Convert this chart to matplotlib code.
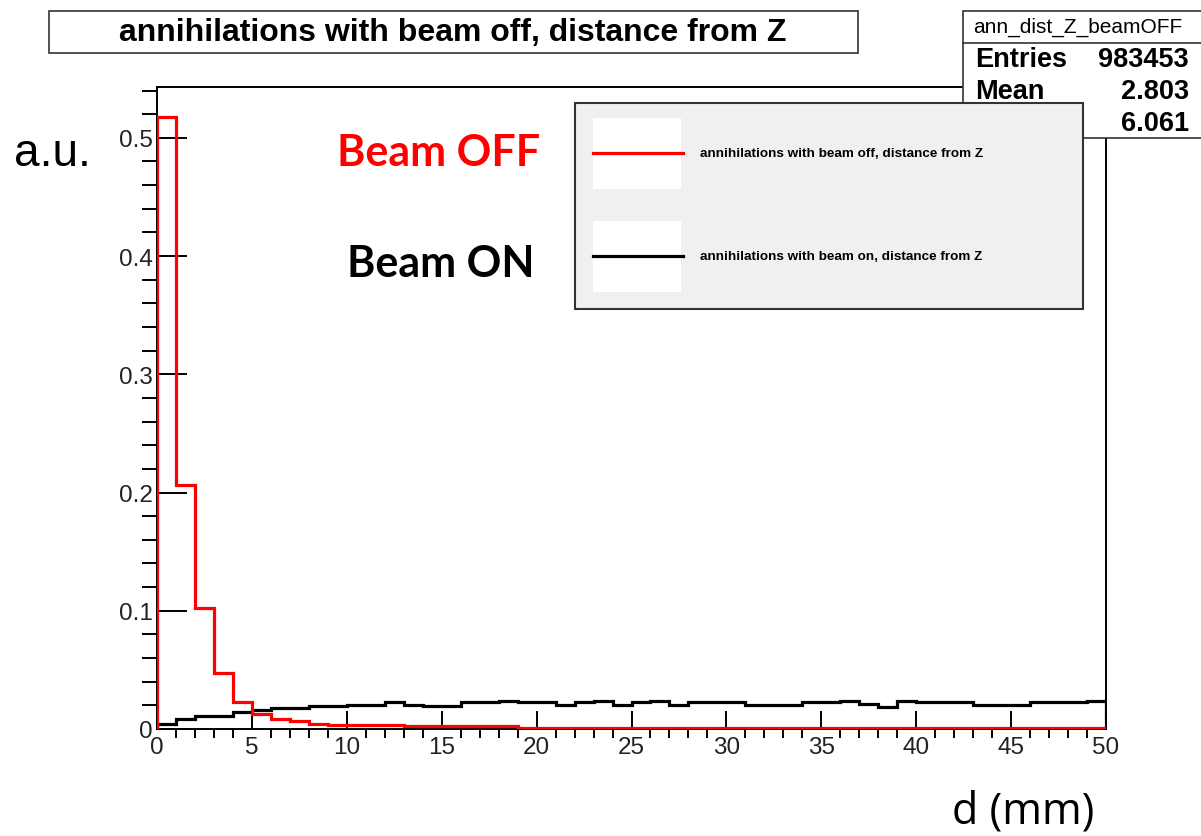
import matplotlib.pyplot as plt
import matplotlib.patches as mpatches
import matplotlib.lines as mlines
import numpy as np

# per-bin contents, 1 mm bins from 0 to 50 mm
beam_off = [0.518, 0.206, 0.102, 0.047, 0.023, 0.0127, 0.0085, 0.007, 0.0042, 0.0034,
            0.0034, 0.0034, 0.0034, 0.0023, 0.0023, 0.0023, 0.0023, 0.0023, 0.0023, 0.0012,
            0.0012, 0.0012, 0.0012, 0.0012, 0.0012, 0.0012, 0.0012, 0.0012, 0.0012, 0.0012,
            0.0012, 0.0012, 0.0008, 0.0008, 0.0008, 0.0008, 0.0008, 0.0008, 0.0008, 0.0008,
            0.0008, 0.0008, 0.0008, 0.0008, 0.0008, 0.0008, 0.0008, 0.0008, 0.0008, 0.0008]
beam_on = [0.0042, 0.0085, 0.0113, 0.0113, 0.0147, 0.016, 0.0178, 0.0178, 0.0192, 0.0192,
           0.0206, 0.0206, 0.0226, 0.0206, 0.0192, 0.0192, 0.0226, 0.0226, 0.0234, 0.0226,
           0.0226, 0.0206, 0.0226, 0.0234, 0.0203, 0.0226, 0.0234, 0.0203, 0.0226, 0.0226,
           0.0226, 0.0203, 0.0203, 0.0203, 0.0226, 0.0226, 0.0234, 0.0212, 0.0189, 0.0234,
           0.0226, 0.0226, 0.0226, 0.0203, 0.0203, 0.0203, 0.0226, 0.0226, 0.0226, 0.0234]
bin_edges = np.arange(0, 51, 1)

x_ticks = [0, 5, 10, 15, 20, 25, 30, 35, 40, 45, 50]
y_ticks = [0, 0.1, 0.2, 0.3, 0.4, 0.5]
y_tick_labels = ["0", "0.1", "0.2", "0.3", "0.4", "0.5"]

hist_title = "annihilations with beam off, distance from Z"
stats_name = "ann_dist_Z_beamOFF"
stats_rows = [("Entries", "983453"), ("Mean", "2.803"), ("RMS", "6.061")]
legend_labels = ["annihilations with beam off, distance from Z",
                 "annihilations with beam on, distance from Z"]

W, H = 1201, 837


def px(x, y):
    # pixel position (from top-left) -> figure fraction
    return x / W, 1 - y / H


def box(x0, y0, x1, y1, **kw):
    fx0, fy1 = px(x0, y1)
    fx1, fy0 = px(x1, y0)
    r = mpatches.Rectangle((fx0, fy1), fx1 - fx0, fy0 - fy1, transform=fig.transFigure, **kw)
    fig.add_artist(r)
    return r


plt.rcParams['font.family'] = ['Liberation Sans', 'DejaVu Sans']

fig = plt.figure(figsize=(W / 100, H / 100), dpi=100)
l, t = px(157, 88)
r, b = px(1106, 730)
ax = fig.add_axes([l, b, r - l, t - b])

ax.stairs(beam_on, bin_edges, color='black', linewidth=2.3, zorder=3)
ax.stairs(beam_off, bin_edges, color='red', linewidth=2.3, zorder=3.1)

ax.set_xlim(0, 50)
ax.set_ylim(0, 0.543)
ax.set_xticks(x_ticks)
ax.set_xticklabels([str(v) for v in x_ticks])
ax.set_xticks(np.arange(0, 51, 1), minor=True)
ax.set_yticks(y_ticks)
ax.set_yticklabels(y_tick_labels)
ax.set_yticks(np.arange(0, 0.55, 0.02), minor=True)
ax.tick_params(axis='both', direction='in', width=1.4, labelsize=17.5, colors='black')
ax.tick_params(axis='x', which='major', length=13, pad=5)
ax.tick_params(axis='x', which='minor', length=6.5, width=1.4)
ax.tick_params(axis='y', which='major', length=21.5, pad=3)
ax.tick_params(axis='y', which='minor', length=10.8, width=1.4)
for s in ax.spines.values():
    s.set_linewidth(1.4)
for lab in ax.get_xticklabels() + ax.get_yticklabels():
    lab.set_color('#222222')

# title pave
box(49, 12, 858, 54, facecolor='white', edgecolor='#333333', linewidth=1.2, zorder=5)
fig.text(*px(453, 33), hist_title, ha='center', va='center', fontsize=23,
         fontweight='bold', zorder=6)

# stats box
box(963, 12, 1205, 139, facecolor='white', edgecolor='#333333', linewidth=1.2, zorder=5)
fig.add_artist(mlines.Line2D([px(963, 0)[0], 1], [px(0, 44)[1]] * 2,
                             transform=fig.transFigure, color='#333333', lw=1.2, zorder=6))
fig.text(*px(1078, 27), stats_name, ha='center', va='center', fontsize=15, zorder=6)
for i, (k, v) in enumerate(stats_rows):
    y = 60 + 32 * i
    fig.text(*px(975, y), k, ha='left', va='center', fontsize=19.5, fontweight='bold', zorder=6)
    fig.text(*px(1189, y), v, ha='right', va='center', fontsize=19.5, fontweight='bold', zorder=6)

# legend
box(575, 104, 1083, 310, facecolor='#f0f0f0', edgecolor='#333333', linewidth=1.5, zorder=10)
for ly, col, lab in [(154, 'red', legend_labels[0]), (257, 'black', legend_labels[1])]:
    box(593, ly - 35, 681, ly + 36, facecolor='white', edgecolor='none', zorder=11)
    fig.add_artist(mlines.Line2D([px(593, 0)[0], px(683, 0)[0]], [px(0, ly)[1]] * 2,
                                 transform=fig.transFigure, color=col, lw=2.3, zorder=12))
    fig.text(*px(700, ly), lab, ha='left', va='center', fontsize=9.7, fontweight='bold', zorder=12)

# annotations
fig.text(*px(14, 166), "a.u.", ha='left', va='baseline', fontsize=33)
fig.text(*px(337, 166), "Beam OFF", ha='left', va='baseline', fontsize=31,
         color='red', fontweight='bold', family=['Lato', 'DejaVu Sans'])
fig.text(*px(347, 277), "Beam ON", ha='left', va='baseline', fontsize=31,
         color='black', fontweight='bold', family=['Lato', 'DejaVu Sans'])
fig.text(*px(952, 824), "d (mm)", ha='left', va='baseline', fontsize=31,
         family=['Open Sans', 'DejaVu Sans'])

fig.savefig("out.png", dpi=100, facecolor='white')
